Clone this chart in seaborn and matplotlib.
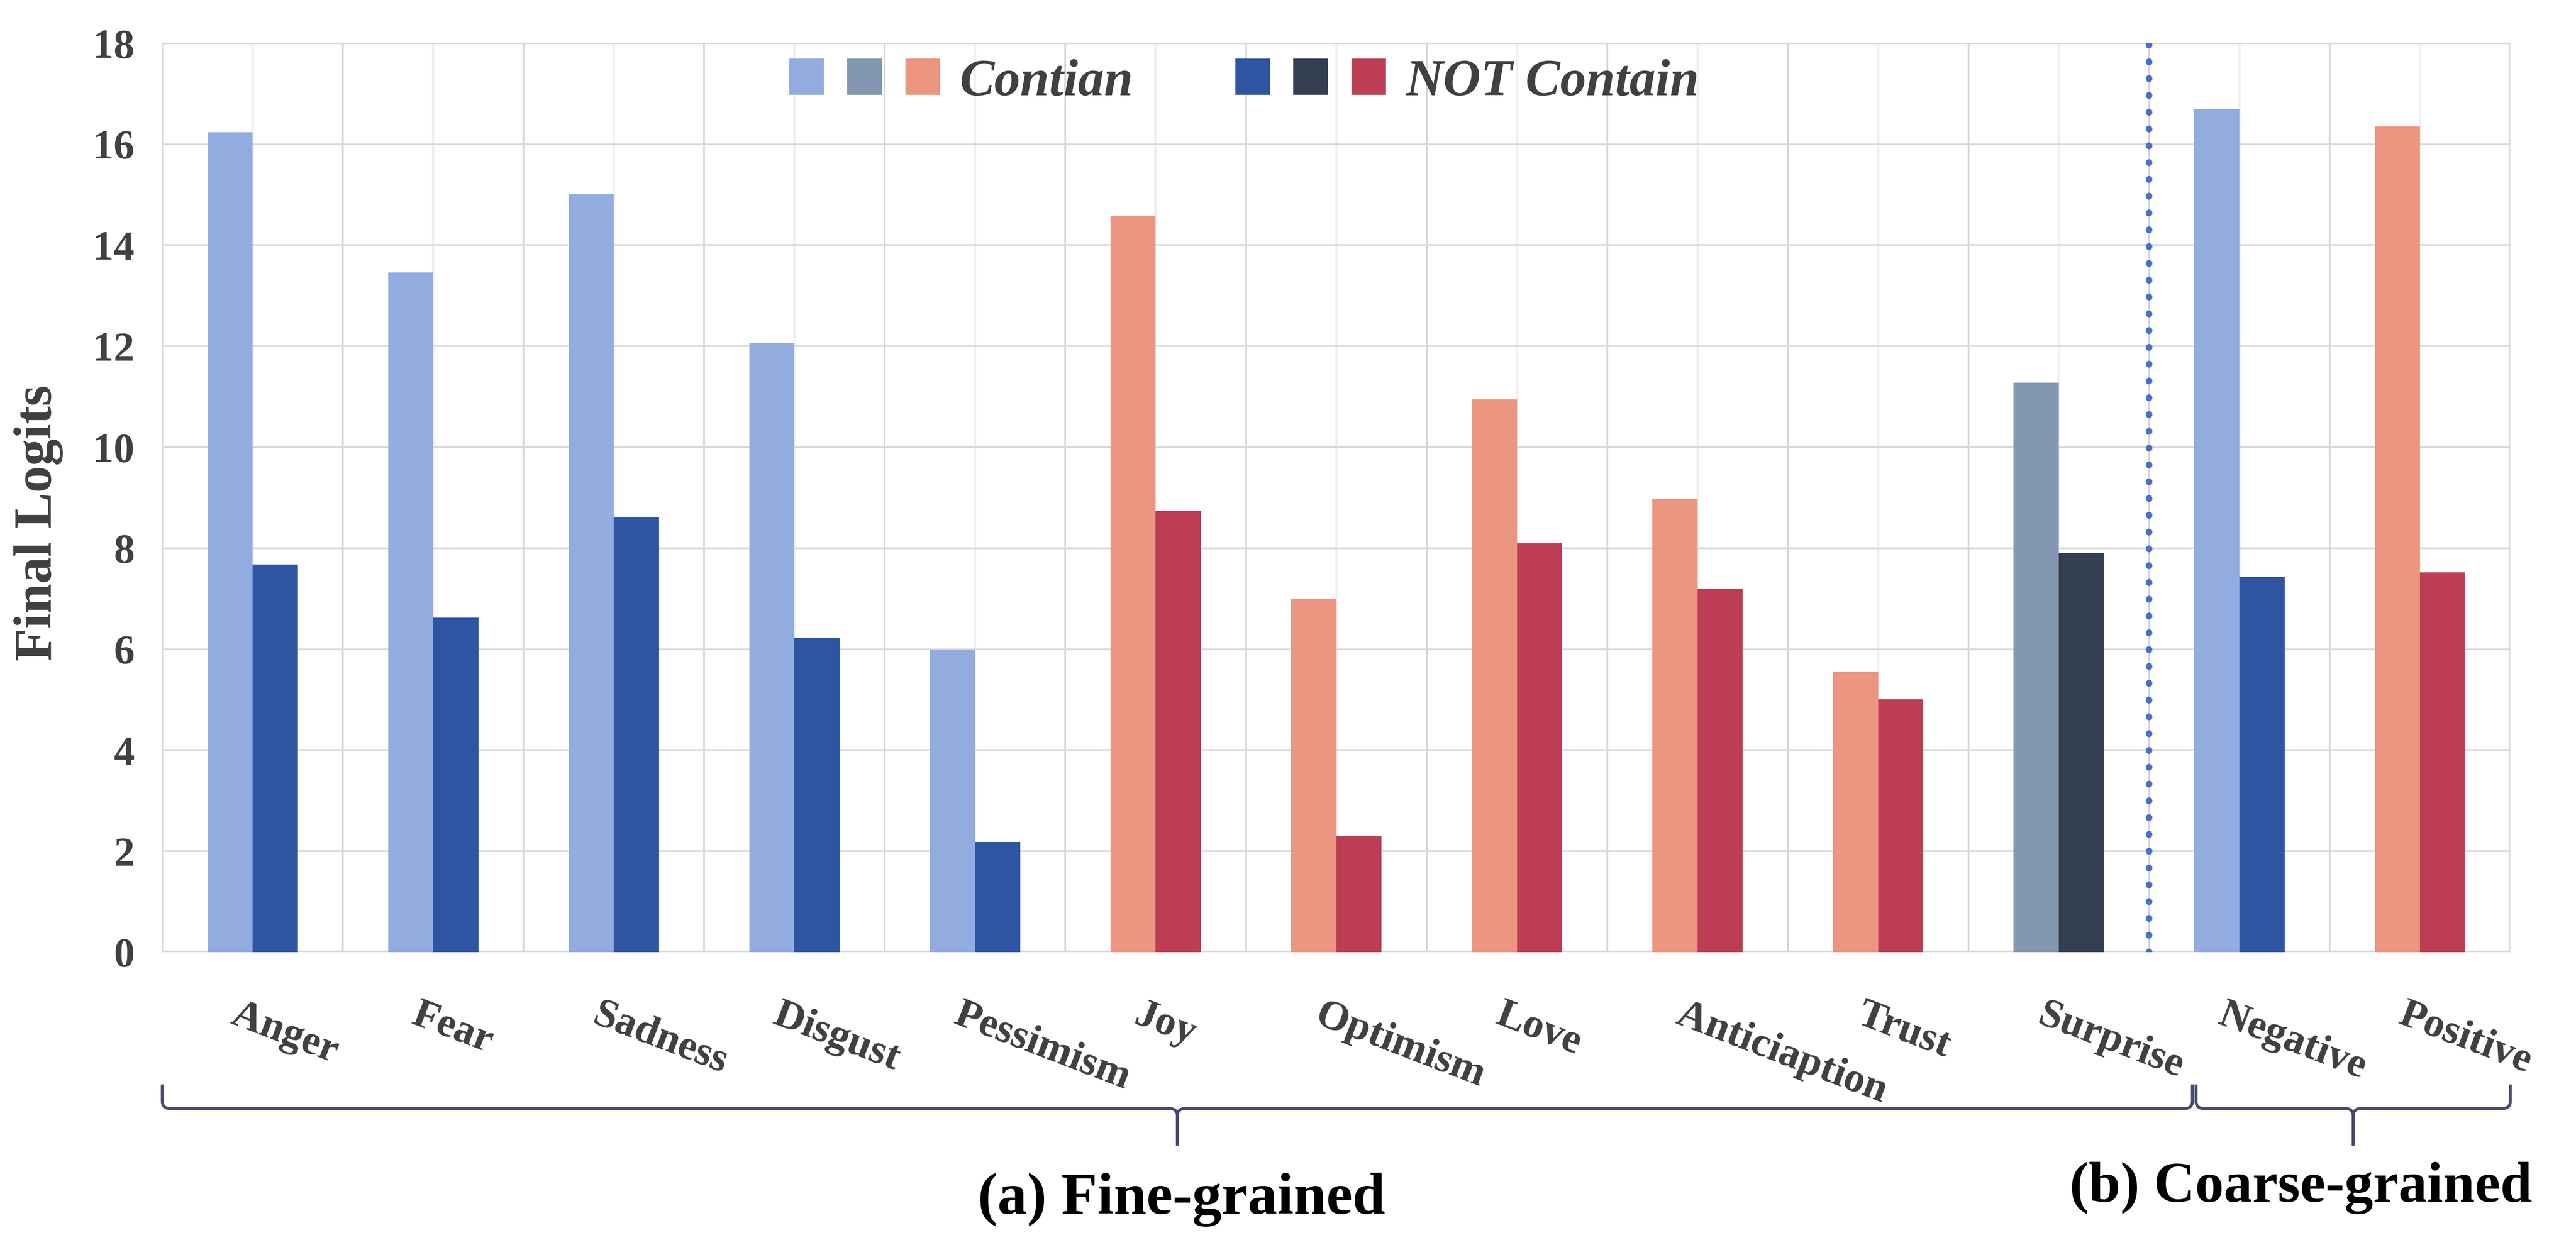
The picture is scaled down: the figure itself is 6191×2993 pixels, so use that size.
import numpy as np
import pandas as pd
import matplotlib
matplotlib.use("Agg")
import matplotlib.pyplot as plt
import matplotlib.transforms as mtransforms
from matplotlib.patches import Patch, PathPatch
from matplotlib.path import Path
from matplotlib.legend_handler import HandlerTuple
import seaborn as sns

emotions = ["Anger", "Fear", "Sadness", "Disgust", "Pessimism", "Joy", "Optimism",
            "Love", "Anticiaption", "Trust", "Surprise", "Negative", "Positive"]
contain = [16.24, 13.46, 15.01, 12.07, 5.98, 14.58, 7.00, 10.95, 8.98, 5.55, 11.28, 16.70, 16.35]
not_contain = [7.68, 6.62, 8.61, 6.22, 2.18, 8.74, 2.31, 8.10, 7.19, 5.01, 7.91, 7.43, 7.52]
polarity = ["neg"] * 5 + ["pos"] * 5 + ["neu"] + ["neg", "pos"]
y_ticks = [0, 2, 4, 6, 8, 10, 12, 14, 16, 18]

light = {"neg": "#92ACE0", "neu": "#8497B0", "pos": "#EC9580"}
dark = {"neg": "#2F55A2", "neu": "#333F50", "pos": "#BD3D55"}

sns.set_style("white")
plt.rcParams["font.family"] = ["Liberation Serif", "DejaVu Serif"]

df = pd.DataFrame({
    "emotion": emotions * 2,
    "logit": contain + not_contain,
    "kind": ["Contian"] * len(emotions) + ["NOT Contain"] * len(emotions),
})

fig = plt.figure(figsize=(6191 / 300, 2993 / 300), dpi=300)
ax = fig.add_axes([0.063, 0.2352, 0.9115, 0.7301])

sns.barplot(data=df, x="emotion", y="logit", hue="kind", order=emotions,
            hue_order=["Contian", "NOT Contain"], width=0.5, linewidth=0,
            palette=["#92ACE0", "#2F55A2"], legend=False, ax=ax, zorder=3)

for bar, pol in zip(ax.containers[0], polarity):
    bar.set_facecolor(light[pol])
for bar, pol in zip(ax.containers[1], polarity):
    bar.set_facecolor(dark[pol])

n = len(emotions)
ax.set_xlim(-0.5, n - 0.5)
ax.set_ylim(0, 18)
ax.set_yticks(y_ticks)
ax.set_xticks(np.arange(n))
ax.set_xticks(np.arange(n + 1) - 0.5, minor=True)
ax.set_xticklabels([])
ax.set_xlabel("")
ax.set_ylabel("")
for s in ax.spines.values():
    s.set_visible(False)

ax.set_axisbelow(True)
ax.grid(axis="y", color="#D9D9D9", lw=1.0)
ax.grid(axis="x", which="major", color="#F0F0F0", lw=1.4)
ax.grid(axis="x", which="minor", color="#D6D6D6", lw=1.0)
ax.tick_params(axis="x", which="major", length=0)
ax.tick_params(axis="x", which="minor", length=9.5, width=1.0, color="#D6D6D6", direction="out")
ax.tick_params(axis="y", length=0, pad=16, labelsize=24, labelcolor="#404040")
for lab in ax.get_yticklabels():
    lab.set_fontweight("bold")
ax.axhline(0, color="#D9D9D9", lw=1.8, zorder=2)

ax.axvline(10.5, color="#4472C4", lw=3.8, linestyle=(0, (0.05, 2.5)),
           dash_capstyle="round", zorder=4)

trans = mtransforms.blended_transform_factory(ax.transData, ax.transAxes)
for i, name in enumerate(emotions):
    ax.text(i - 0.07, -0.0485, name, transform=trans, rotation=-21,
            rotation_mode="anchor", ha="left", va="top", fontsize=24,
            fontweight="bold", color="#3F3F3F")

fig.text(0.0149, 0.580, "Final Logits", rotation=90, ha="center", va="center",
         fontsize=31, fontweight="bold", color="#3F3F3F")


def draw_brace(x0, x1, y_top, y_mid, y_tip, rx=0.045, ry=0.008):
    xm = (x0 + x1) / 2
    verts = [(x0, y_top), (x0, y_mid + ry), (x0, y_mid), (x0 + rx, y_mid),
             (xm - rx, y_mid), (xm, y_mid), (xm, y_mid - ry), (xm, y_tip),
             (xm, y_mid - ry), (xm, y_mid), (xm + rx, y_mid),
             (x1 - rx, y_mid), (x1, y_mid), (x1, y_mid + ry), (x1, y_top)]
    codes = [Path.MOVETO, Path.LINETO, Path.CURVE3, Path.CURVE3,
             Path.LINETO, Path.CURVE3, Path.CURVE3, Path.LINETO,
             Path.MOVETO, Path.CURVE3, Path.CURVE3,
             Path.LINETO, Path.CURVE3, Path.CURVE3, Path.LINETO]
    ax.add_patch(PathPatch(Path(verts, codes), transform=trans, fill=False,
                           edgecolor="#474A6E", lw=1.7, clip_on=False))


draw_brace(-0.5, 10.74, -0.1455, -0.172, -0.2128)
draw_brace(10.76, 12.5, -0.1455, -0.172, -0.2128)

fig.text(0.4587, 0.0365, "(a) Fine-grained", ha="center", va="center",
         fontsize=34, fontweight="bold", color="black")
fig.text(0.8932, 0.0458, "(b) Coarse-grained", ha="center", va="center",
         fontsize=33, fontweight="bold", color="black")

h_contain = tuple(Patch(facecolor=light[k], lw=0) for k in ["neg", "neu", "pos"])
h_not = tuple(Patch(facecolor=dark[k], lw=0) for k in ["neg", "neu", "pos"])
ax.legend(handles=[h_contain, h_not], labels=["Contian", "NOT Contain"],
          handler_map={tuple: HandlerTuple(ndivide=None, pad=0.45)},
          ncol=2, handlelength=2.9, handleheight=0.7, handletextpad=0.38,
          columnspacing=1.96, frameon=False, loc="center left",
          bbox_to_anchor=(0.267, 0.957), borderaxespad=0, borderpad=0,
          prop=dict(weight="bold", style="italic", size=30), labelcolor="#404040")

fig.savefig("out.png", dpi=300)
